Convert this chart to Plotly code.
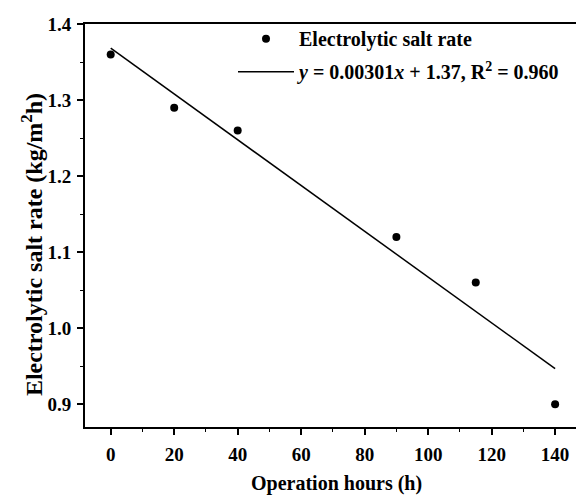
import numpy as np
import plotly.graph_objects as go

# Data
hours = [0, 20, 40, 90, 115, 140]
salt_rate = [1.36, 1.29, 1.26, 1.12, 1.06, 0.90]
x_ticks = [0, 20, 40, 60, 80, 100, 120, 140]
y_ticks = [0.9, 1.0, 1.1, 1.2, 1.3, 1.4]
y_tick_labels = ["0.9", "1.0", "1.1", "1.2", "1.3", "1.4"]

scatter_name = "Electrolytic salt rate"
fit_name = "<i>y</i> = 0.00301<i>x</i> + 1.37, R<sup>2</sup> = 0.960"
x_title = "Operation hours (h)"
y_title = "Electrolytic salt rate (kg/m<sup>2</sup>h)"

# Linear fit from the data
slope, intercept = np.polyfit(hours, salt_rate, 1)
fit_x = [min(hours), max(hours)]
fit_y = [slope * v + intercept for v in fit_x]

FONT = "Liberation Serif"

fig = go.Figure()
fig.add_trace(go.Scatter(
    x=hours, y=salt_rate, mode="markers", name=scatter_name,
    marker=dict(color="black", size=8), legendgroup="a",
))
fig.add_trace(go.Scatter(
    x=fit_x, y=fit_y, mode="lines", name=fit_name,
    line=dict(color="black", width=1.5), legendgroup="b",
))

fig.update_layout(
    width=576, height=491,
    margin=dict(l=77, r=0, t=16, b=72),
    paper_bgcolor="white", plot_bgcolor="white",
    font=dict(family=FONT, size=19, color="black"),
    showlegend=True,
    legend=dict(
        x=0.2966, y=1.012, xanchor="left", yanchor="top",
        bgcolor="rgba(0,0,0,0)", borderwidth=0,
        font=dict(family=FONT, size=20, color="black", weight="bold"),
        itemwidth=56, tracegroupgap=4,
    ),
    xaxis=dict(
        range=[-8.1, 149.1], tickvals=x_ticks,
        showgrid=False, zeroline=False,
        showline=True, linecolor="black", linewidth=2, mirror=True,
        ticks="outside", ticklen=6, tickwidth=1.5, tickcolor="black",
        tickfont=dict(family=FONT, size=19, color="black", weight="bold"),
        ticklabelstandoff=3,
        minor=dict(dtick=10, tick0=0, ticks="outside", ticklen=3, tickwidth=1, tickcolor="black"),
    ),
    yaxis=dict(
        range=[0.870, 1.4], tickvals=y_ticks, ticktext=y_tick_labels,
        showgrid=False, zeroline=False,
        showline=True, linecolor="black", linewidth=2, mirror=False,
        ticks="outside", ticklen=6, tickwidth=1.5, tickcolor="black",
        tickfont=dict(family=FONT, size=19, color="black", weight="bold"),
        ticklabelstandoff=2,
        minor=dict(dtick=0.05, tick0=0.9, ticks="outside", ticklen=3, tickwidth=1, tickcolor="black"),
    ),
    annotations=[
        dict(text="<b>" + x_title + "</b>", xref="paper", yref="paper",
             x=0.505, y=-0.139, xanchor="center", yanchor="middle",
             showarrow=False, font=dict(family=FONT, size=20, color="black")),
        dict(text="<b>" + y_title + "</b>", xref="paper", yref="paper",
             x=-0.106, y=0.4516, xanchor="center", yanchor="middle",
             textangle=-90, showarrow=False,
             font=dict(family=FONT, size=24, color="black")),
    ],
)

fig.write_html("out.html")
